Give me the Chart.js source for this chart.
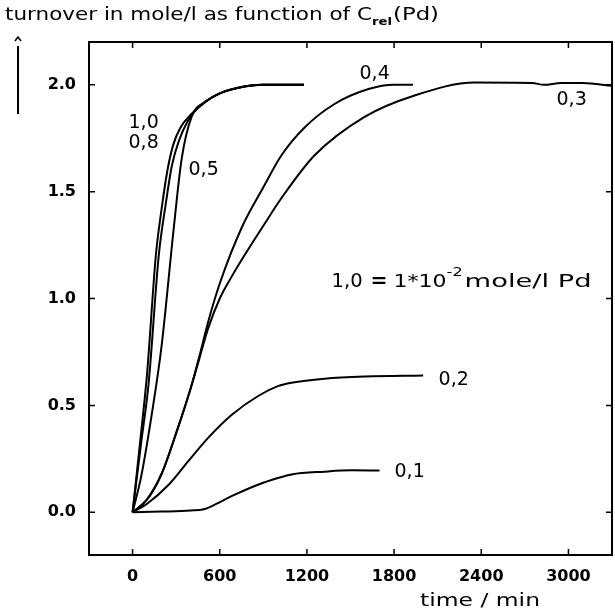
<!DOCTYPE html>
<html>
<head>
<meta charset="utf-8">
<script src="https://cdn.jsdelivr.net/npm/chart.js@4/dist/chart.umd.min.js"></script>
<style>
  html, body { margin: 0; padding: 0; background: #fff; }
  #wrap { width: 615px; height: 615px; position: relative; }
</style>
</head>
<body>
<div id="wrap"><canvas id="chart" width="615" height="615"></canvas></div>
<script>
// tick values
const xTicks = [0, 600, 1200, 1800, 2400, 3000];
const yTicks = [0, 0.5, 1.0, 1.5, 2.0];

// curves: time in min, turnover in mole/l
const t10 = [0, 60, 100, 160, 200, 240, 280, 330, 400, 500, 600, 720, 900, 1180];
const v10 = [0, 0.38, 0.65, 1.2, 1.42, 1.6, 1.72, 1.8, 1.86, 1.92, 1.96, 1.985, 2.0, 2.0];

const t08 = [0, 60, 110, 180, 230, 270, 320, 380, 420, 500, 600, 720, 900, 1180];
const v08 = [0, 0.33, 0.6, 1.2, 1.45, 1.62, 1.74, 1.83, 1.87, 1.92, 1.96, 1.985, 2.0, 2.0];

const t05 = [0, 60, 130, 200, 282, 337, 406, 500, 600, 720, 900, 1180];
const v05 = [0, 0.17, 0.45, 0.78, 1.32, 1.65, 1.85, 1.92, 1.96, 1.985, 2.0, 2.0];

const t04 = [0, 100, 200, 300, 400, 460, 520, 600, 750, 900, 1025, 1184, 1390, 1624, 1800, 1930];
const v04 = [0, 0.06, 0.18, 0.37, 0.58, 0.73, 0.89, 1.07, 1.33, 1.52, 1.67, 1.8, 1.91, 1.98, 2.0, 2.0];

const t03 = [0, 100, 200, 300, 400, 460, 520, 600, 680, 750, 900, 1025, 1253, 1597, 1941, 2354, 2750, 2830, 2950, 3100, 3300];
const v03 = [0, 0.06, 0.18, 0.37, 0.58, 0.72, 0.86, 1.0, 1.1, 1.18, 1.34, 1.47, 1.67, 1.85, 1.95, 2.01, 2.008, 2.0, 2.008, 2.008, 1.995];

const t02 = [0, 100, 250, 385, 523, 681, 867, 1000, 1094, 1321, 1600, 2000];
const v02 = [0, 0.04, 0.13, 0.24, 0.35, 0.455, 0.545, 0.59, 0.606, 0.625, 0.635, 0.64];

const t01 = [0, 200, 400, 490, 580, 681, 867, 1000, 1094, 1321, 1507, 1700];
const v01 = [0, 0.003, 0.008, 0.014, 0.04, 0.075, 0.13, 0.16, 0.177, 0.19, 0.196, 0.195];

// curve labels: text, time, value
const labelText = ['1,0', '0,8', '0,5', '0,4', '0,3', '0,2', '0,1'];
const labelT = [-28, -28, 385, 1562, 2918, 2106, 1803];
const labelV = [1.82, 1.725, 1.6, 2.05, 1.93, 0.62, 0.19];

const FONT = '"DejaVu Sans", sans-serif';

function pts(ts, vs) {
    return ts.map((t, i) => ({ x: t, y: vs[i] }));
}

function curve(ts, vs) {
    return {
        data: pts(ts, vs),
        borderColor: '#000',
        borderWidth: 2,
        pointRadius: 0,
        fill: false,
        tension: 0.4,
        cubicInterpolationMode: 'monotone'
    };
}

// draws text stretched to a given width (the original lettering is wide)
function fitText(ctx, txt, x, y, w) {
    const m = ctx.measureText(txt).width;
    ctx.save();
    ctx.translate(x, y);
    ctx.scale(w / m, 1);
    ctx.fillText(txt, 0, 0);
    ctx.restore();
}

const decor = {
    id: 'decor',
    afterDraw(chart) {
        const ctx = chart.ctx;
        const a = chart.chartArea;
        const xs = chart.scales.x;
        const ys = chart.scales.y;
        ctx.save();
        ctx.strokeStyle = '#000';
        ctx.fillStyle = '#000';

        // frame
        ctx.lineWidth = 2;
        ctx.strokeRect(a.left, a.top, a.right - a.left, a.bottom - a.top);

        // inward ticks on all sides
        ctx.lineWidth = 1.5;
        xTicks.forEach(v => {
            const px = xs.getPixelForValue(v);
            ctx.beginPath();
            ctx.moveTo(px, a.bottom); ctx.lineTo(px, a.bottom - 6);
            ctx.moveTo(px, a.top); ctx.lineTo(px, a.top + 6);
            ctx.stroke();
        });
        yTicks.forEach(v => {
            const py = ys.getPixelForValue(v);
            ctx.beginPath();
            ctx.moveTo(a.left, py); ctx.lineTo(a.left + 6, py);
            ctx.moveTo(a.right, py); ctx.lineTo(a.right - 6, py);
            ctx.stroke();
        });

        // title with subscript
        ctx.textBaseline = 'alphabetic';
        ctx.textAlign = 'left';
        ctx.font = '18px ' + FONT;
        let s = 'turnover in mole/l as function of C';
        let x = 5;
        fitText(ctx, s, x, 20, 367);
        x += 367;
        ctx.font = 'bold 11px ' + FONT;
        fitText(ctx, 'rel', x, 25, 20);
        x += 21;
        ctx.font = '18px ' + FONT;
        fitText(ctx, '(Pd)', x, 20, 46);

        // y indicator
        ctx.lineWidth = 2;
        ctx.beginPath();
        ctx.moveTo(18, 46); ctx.lineTo(18, 114);
        ctx.stroke();
        ctx.lineWidth = 1.5;
        ctx.beginPath();
        ctx.moveTo(15, 41); ctx.lineTo(18, 37); ctx.lineTo(21, 41);
        ctx.stroke();

        // x axis title
        ctx.font = '18px ' + FONT;
        fitText(ctx, 'time / min', 420, 606, 120);

        // curve labels
        ctx.font = '19px ' + FONT;
        ctx.textBaseline = 'middle';
        labelText.forEach((txt, i) => {
            ctx.fillText(txt, xs.getPixelForValue(labelT[i]), ys.getPixelForValue(labelV[i]));
        });

        // concentration note
        const nx = xs.getPixelForValue(1370);
        const ny = ys.getPixelForValue(1.077);
        ctx.font = '19px ' + FONT;
        fitText(ctx, '1,0', nx, ny, 31);
        ctx.font = 'bold 20px ' + FONT;
        fitText(ctx, '=', nx + 39, ny, 17);
        ctx.font = '18px ' + FONT;
        fitText(ctx, '1*10', nx + 62, ny, 53);
        ctx.font = '12px ' + FONT;
        fitText(ctx, '-2', nx + 115, ny - 9, 16);
        ctx.font = '18px ' + FONT;
        fitText(ctx, 'mole/l Pd', nx + 133, ny, 127);

        ctx.restore();
    }
};

new Chart(document.getElementById('chart'), {
    type: 'line',
    data: {
        datasets: [
            curve(t10, v10), curve(t08, v08), curve(t05, v05),
            curve(t04, v04), curve(t03, v03), curve(t02, v02), curve(t01, v01)
        ]
    },
    options: {
        responsive: false,
        animation: false,
        layout: { padding: { top: 42, right: 3, left: 0, bottom: 0 } },
        plugins: { legend: { display: false }, tooltip: { enabled: false } },
        scales: {
            x: {
                type: 'linear',
                min: -300,
                max: 3300,
                afterBuildTicks: axis => { axis.ticks = xTicks.map(v => ({ value: v })); },
                afterFit: axis => { axis.height = 60; },
                grid: { display: false, drawTicks: false },
                border: { display: false },
                ticks: {
                    color: '#000',
                    padding: 12,
                    maxRotation: 0,
                    autoSkip: false,
                    font: { family: FONT, size: 16, weight: 'bold' },
                    callback: v => String(v)
                }
            },
            y: {
                type: 'linear',
                min: -0.2,
                max: 2.2,
                afterBuildTicks: axis => { axis.ticks = yTicks.map(v => ({ value: v })); },
                afterFit: axis => { axis.width = 89; },
                grid: { display: false, drawTicks: false },
                border: { display: false },
                ticks: {
                    color: '#000',
                    padding: 13,
                    autoSkip: false,
                    font: { family: FONT, size: 16, weight: 'bold' },
                    callback: v => v.toFixed(1)
                }
            }
        }
    },
    plugins: [decor]
});
</script>
</body>
</html>
